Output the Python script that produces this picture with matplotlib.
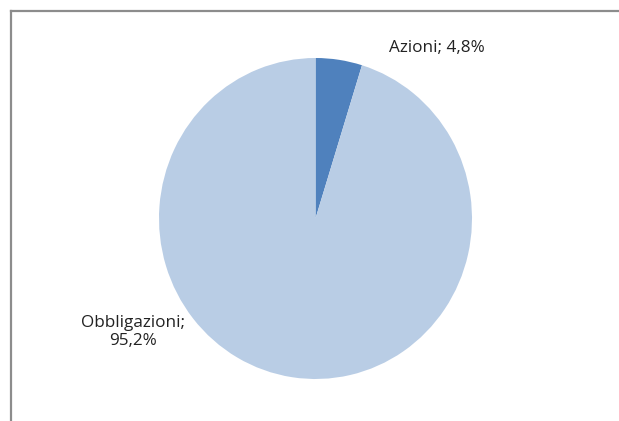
import matplotlib
matplotlib.use("Agg")
import matplotlib.pyplot as plt
from matplotlib.lines import Line2D

categories = ["Azioni", "Obbligazioni"]
values = [4.8, 95.2]
value_labels = ["4,8%", "95,2%"]
colors = ["#4F81BD", "#B9CDE5"]

W, H = 619, 421
fig = plt.figure(figsize=(W / 100, H / 100), dpi=100)
fig.patch.set_facecolor("white")

# frame (top and left edges visible)
fig.add_artist(Line2D([10.5 / W, 1.0], [1 - 10.5 / H, 1 - 10.5 / H], color="#8c8c8c", lw=1.6,
                      transform=fig.transFigure))
fig.add_artist(Line2D([10.5 / W, 10.5 / W], [0.0, 1 - 10.5 / H], color="#8c8c8c", lw=1.6,
                      transform=fig.transFigure))

left, right, top, bottom = 159, 472, 58, 379
ax = fig.add_axes([left / W, 1 - bottom / H, (right - left) / W, (bottom - top) / H])
ax.pie(values, colors=colors, startangle=90, counterclock=False, radius=1.0,
       wedgeprops=dict(linewidth=0))
ax.set_xlim(-1, 1)
ax.set_ylim(-1, 1)
ax.set_aspect("auto")
ax.axis("off")

font = dict(family=["Open Sans", "DejaVu Sans"], fontsize=12.3, color="#222222")
fig.text(389 / W, 1 - 48 / H, f"{categories[0]}; {value_labels[0]}", ha="left", va="center", **font)
fig.text(133 / W, 1 - 332 / H, f"{categories[1]};\n{value_labels[1]}", ha="center", va="center",
         linespacing=1.2, **font)

fig.savefig("out.png", dpi=100)
